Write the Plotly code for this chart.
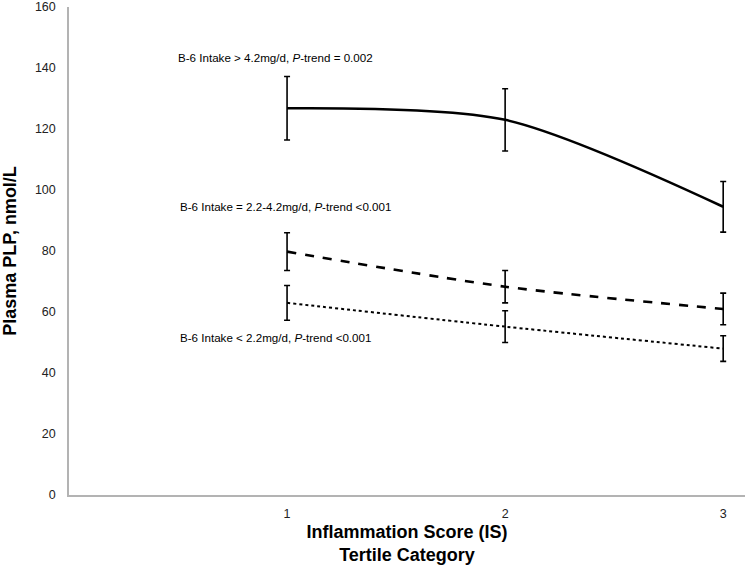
import plotly.graph_objects as go

FONT = "Arial, Liberation Sans, sans-serif"

tertile = [1, 2, 3]

high_mean = [126.8, 123.0, 94.5]
high_err = [10.4, 10.2, 8.3]

mid_mean = [79.8, 68.3, 61.0]
mid_err = [6.2, 5.3, 5.2]

low_mean = [63.0, 55.2, 48.0]
low_err = [5.7, 5.2, 4.2]

labels = [
    ("B-6 Intake > 4.2mg/d, <i>P</i>-trend = 0.002", 0.49, 143.3),
    ("B-6 Intake = 2.2-4.2mg/d, <i>P</i>-trend <0.001", 0.50, 94.7),
    ("B-6 Intake < 2.2mg/d, <i>P</i>-trend <0.001", 0.50, 51.5),
]

series = [
    (high_mean, high_err, "solid", 2.6),
    (mid_mean, mid_err, "dash", 2.6),
    (low_mean, low_err, "dot", 2.0),
]

fig = go.Figure()
for mean, err, dash, w in series:
    fig.add_trace(go.Scatter(
        x=tertile, y=mean, mode="lines",
        line=dict(color="black", width=w, dash=dash, shape="spline", smoothing=0.8),
        error_y=dict(type="data", array=err, visible=True, color="black",
                     thickness=1.6, width=3),
        showlegend=False,
    ))

for text, x, y in labels:
    fig.add_annotation(x=x, y=y, text=text, showarrow=False, xanchor="left",
                       yanchor="middle", font=dict(size=11.6, color="black", family=FONT))

fig.update_layout(
    width=747, height=565,
    paper_bgcolor="white", plot_bgcolor="white",
    font=dict(family=FONT, color="black"),
    margin=dict(l=69, r=2, t=7, b=70),
)
fig.update_xaxes(
    range=[0, 3.1], tickvals=tertile, showgrid=False, zeroline=False,
    showline=True, linecolor="#b3b3b3", linewidth=1.5, automargin=False,
    tickfont=dict(size=12.5, color="#222"), ticks="", ticklabelstandoff=6,
    title=dict(text="<b>Inflammation Score (IS)<br>Tertile Category</b>",
               font=dict(size=18, color="black"), standoff=14),
)
fig.update_yaxes(
    range=[0, 160], dtick=20, showgrid=False, zeroline=False,
    showline=True, linecolor="#b3b3b3", linewidth=1.5, automargin=False,
    tickfont=dict(size=12.5, color="#222"), ticks="", ticklabelstandoff=9,
    title=dict(text="<b>Plasma PLP, nmol/L</b>", font=dict(size=18, color="black"),
               standoff=16),
)

# drop the page's default 8px body margin so the figure sits at the window corner
fig.write_html("out.html", config={"displayModeBar": False},
               post_script="document.body.style.margin = '0';")
